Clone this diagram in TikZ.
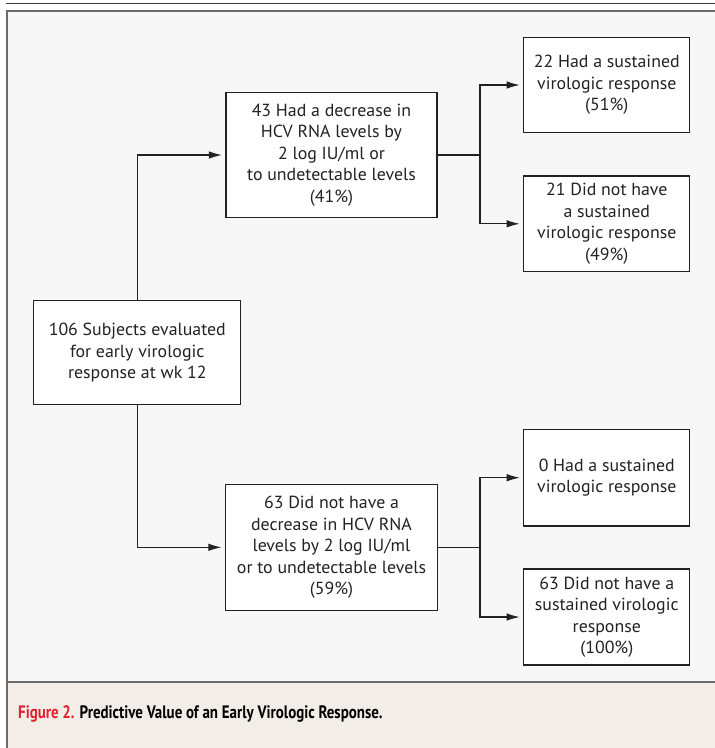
\documentclass[tikz,border=0pt]{standalone}
\usepackage{fontspec}
\setmainfont[FakeStretch=1.02]{PT Sans}
\newfontfamily\capfont[FakeStretch=0.83]{PT Sans}
\usetikzlibrary{arrows.meta}
\definecolor{framegray}{HTML}{6B6B6B}
\definecolor{topline}{HTML}{3A3A3A}
\definecolor{diagbg}{HTML}{F7F7F7}
\definecolor{capbg}{HTML}{F2EDE7}
\definecolor{capred}{HTML}{E3202B}
\definecolor{ink}{HTML}{222222}
\begin{document}
\begin{tikzpicture}[x=1pt,y=-1pt,
  boxnode/.style={draw=ink, fill=white, line width=1.2pt, align=center, text=ink,
    font=\fontsize{17.5}{21.5}\selectfont, inner sep=0pt},
  conn/.style={draw=ink, line width=1.1pt},
  arr/.style={conn, -{Latex[length=13pt,width=7.5pt]}, shorten >=3.5pt}]
\useasboundingbox (0,0) rectangle (715,748);
% backgrounds
\fill[white] (0,0) rectangle (715,748);
\fill[diagbg] (7,11) rectangle (715,682);
\fill[capbg] (7,682) rectangle (715,748);
\draw[topline, line width=1.4pt] (6,3.6) -- (715,3.6);
\draw[framegray, line width=2.3pt] (715,11.2) -- (7.2,11.2) -- (7.2,748);
\draw[framegray, line width=2.3pt] (7,682.2) -- (715,682.2);
% boxes
\node[boxnode, minimum width=207pt, minimum height=104pt] (b106) at (137.3,352.8)
  {106 Subjects evaluated\\for early virologic\\response at wk 12};
\node[boxnode, minimum width=211pt, minimum height=125pt] (b43) at (331.5,155)
  {43 Had a decrease in\\HCV RNA levels by\\2 log IU/ml or\\to undetectable levels\\(41\%)};
\node[boxnode, minimum width=212pt, minimum height=126pt] (b63) at (331.5,547.3)
  {63 Did not have a\\decrease in HCV RNA\\levels by 2 log IU/ml\\or to undetectable levels\\(59\%)};
\node[boxnode, minimum width=166pt, minimum height=95.5pt] (b22) at (606.8,85)
  {22 Had a sustained\\virologic response\\(51\%)};
\node[boxnode, minimum width=166pt, minimum height=95.5pt] (b21) at (606.8,223.8)
  {21 Did not have\\a sustained\\virologic response\\(49\%)};
\node[boxnode, minimum width=166pt, minimum height=96.5pt] (b0) at (606.8,477.7)
  {0 Had a sustained\\virologic response};
\node[boxnode, minimum width=166pt, minimum height=96pt] (b63b) at (606.8,617)
  {63 Did not have a\\sustained virologic\\response\\(100\%)};
% junctions
\coordinate (j1) at (480,155);
\coordinate (j2) at (480,547.3);
% connectors
\draw[arr] (b106.north) |- (b43.west);
\draw[arr] (b106.south) |- (b63.west);
\draw[conn] (b43.east) -- (j1);
\draw[arr] (j1) |- (b22.west);
\draw[arr] (j1) |- (b21.west);
\draw[conn] (b63.east) -- (j2);
\draw[arr] (j2) |- (b0.west);
\draw[arr] (j2) |- (b63b.west);
% caption
\node[anchor=base west, inner sep=0pt, font=\capfont\bfseries\fontsize{18}{20}\selectfont] (cap) at (18,718)
  {\textcolor{capred}{Figure 2.} Predictive Value of an Early Virologic Response.};
\end{tikzpicture}
\end{document}
